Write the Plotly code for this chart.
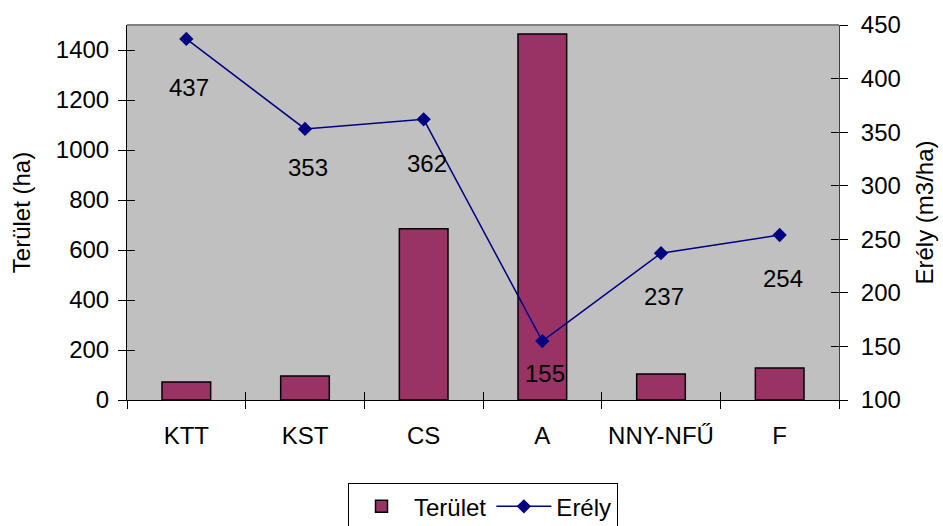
import plotly.graph_objects as go

categories = ["KTT", "KST", "CS", "A", "NNY-NFŰ", "F"]
terulet = [72, 96, 685, 1464, 104, 128]
erely = [437, 353, 362, 155, 237, 254]
left_ticks = [0, 200, 400, 600, 800, 1000, 1200, 1400]
right_ticks = [100, 150, 200, 250, 300, 350, 400, 450]

label_shift = [-49, -39, -44, -32, -43, -43]

FONT = "Liberation Sans, Arial, sans-serif"
FS = 24

fig = go.Figure()
fig.add_trace(go.Bar(
    x=categories, y=terulet, name="Terület",
    marker=dict(color="#993366", line=dict(color="black", width=1.5)),
    yaxis="y", xaxis="x",
))
fig.add_trace(go.Scatter(
    x=categories, y=erely, name="Erély", mode="lines+markers",
    line=dict(color="#000080", width=1.5),
    marker=dict(symbol="diamond", size=11, color="#000080"),
    yaxis="y2", xaxis="x",
))

for c, v, s in zip(categories, erely, label_shift):
    fig.add_annotation(x=c, y=v, xref="x", yref="y2", text=str(v),
                       showarrow=False, yshift=s, xshift=3,
                       font=dict(family=FONT, size=FS, color="black"))

axis_common = dict(showgrid=False, zeroline=False, automargin=False)

fig.update_layout(
    width=943, height=526,
    margin=dict(l=127, r=104, t=25, b=126, autoexpand=False),
    paper_bgcolor="white", plot_bgcolor="#C0C0C0",
    font=dict(family=FONT, size=FS, color="black"),
    bargap=0.59,
    showlegend=True,
    legend=dict(orientation="h", x=0.5, xanchor="center", y=-0.222, yanchor="top",
                bordercolor="black", borderwidth=1, font=dict(size=FS),
                bgcolor="white", itemwidth=55),
    xaxis=dict(type="category", categoryarray=categories, range=[-0.5, 5.5],
               tickson="boundaries", ticks="outside", ticklen=8, tickcolor="black",
               showline=True, linecolor="black", linewidth=1,
               tickfont=dict(size=FS),
               ticklabelstandoff=14, **axis_common),
    xaxis2=dict(type="category", categoryarray=categories, range=[-0.5, 5.5],
                overlaying="x", side="bottom", anchor="y",
                tickson="boundaries", ticks="inside", ticklen=8, tickcolor="black",
                showticklabels=False, showline=False, **axis_common),
    yaxis=dict(range=[0, 1500], tickvals=left_ticks, ticks="outside", ticklen=8,
               tickcolor="black", showline=True, linecolor="black", linewidth=1,
               tickfont=dict(size=FS), ticklabelstandoff=4,
               title=dict(text="Terület (ha)", standoff=18, font=dict(size=FS)),
               **axis_common),
    yaxis2=dict(range=[100, 450], tickvals=right_ticks, overlaying="y", side="right",
                ticks="outside", ticklen=8, tickcolor="black",
                showline=True, linecolor="#404040", linewidth=1,
                tickfont=dict(size=FS), ticklabelstandoff=8,
                title=dict(text="Erély (m3/ha)", standoff=16, font=dict(size=FS)),
                **axis_common),
    yaxis3=dict(range=[0, 1500], tickvals=left_ticks, overlaying="y", side="left",
                ticks="inside", ticklen=8, tickcolor="black",
                showticklabels=False, showline=False, **axis_common),
    yaxis4=dict(range=[100, 450], tickvals=right_ticks, overlaying="y", side="right",
                ticks="inside", ticklen=8, tickcolor="black",
                showticklabels=False, showline=False, **axis_common),
)

# invisible traces to activate the overlay (inside-tick) axes
fig.add_trace(go.Scatter(x=categories, y=terulet, xaxis="x2", yaxis="y3",
                         mode="markers", marker=dict(opacity=0), showlegend=False,
                         hoverinfo="skip"))
fig.add_trace(go.Scatter(x=categories, y=erely, xaxis="x2", yaxis="y4",
                         mode="markers", marker=dict(opacity=0), showlegend=False,
                         hoverinfo="skip"))

fig.add_shape(type="line", xref="paper", yref="paper", x0=0, x1=1, y0=1, y1=1,
              line=dict(color="#808080", width=2))

fig.write_html("out.html", config={"displayModeBar": False},
               post_script="document.body.style.margin='0';document.body.style.overflow='hidden';")
